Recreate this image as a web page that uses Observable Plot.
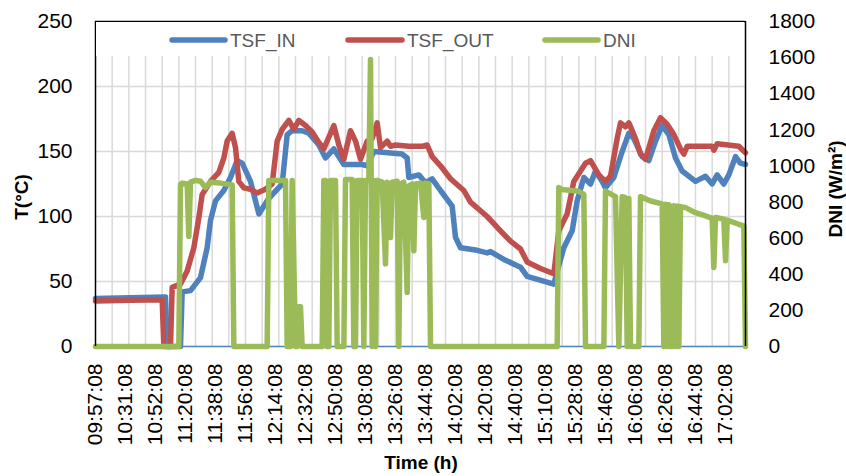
<!DOCTYPE html>
<html><head><meta charset="utf-8">
<script src="https://cdn.jsdelivr.net/npm/d3@7"></script>
<script src="https://cdn.jsdelivr.net/npm/@observablehq/plot@0.6"></script>
<style>body{margin:0;background:#fff} svg{display:block}</style>
</head><body><div id="chart"></div>
<script>
// ---- data ----
const timeLabels = ["09:57:08","10:31:08","10:52:08","11:20:08","11:38:08","11:56:08","12:14:08","12:32:08","12:50:08","13:08:08","13:26:08","13:44:08","14:02:08","14:20:08","14:40:08","15:10:08","15:28:08","15:46:08","16:06:08","16:26:08","16:44:08","17:02:08"];
const labelStep = 18;
const nPoints = 391;
const tempTicks = [0, 50, 100, 150, 200, 250];
const dniTicks = [0, 200, 400, 600, 800, 1000, 1200, 1400, 1600, 1800];

const inIdx = [0,21,42,43,51,52,57,63,67,69,72,77,81,85,88,93,96,98,104,112,115,118,124,128,134,138,143,149,160,163,167,184,187,188,194,198,202,207,214,216,219,229,235,237,245,255,259,275,276,281,286,289,293,297,300,304,306,311,316,320,323,328,332,336,340,344,348,352,360,366,370,373,377,380,384,387,390];
const inVal = [37,37.5,38,0,0,42,43,53,76,97,112,120,130,143,141,127,112,102,114,125,163,166,166,164,155,145,152,140,140,139,150,148,145,130,132,126,129,120,108,84,76,74,72,73,67,61,54,48,53,76,89,112,130,125,135,127,122,130,150,164,160,146,143,158,170,163,145,135,127,131,125,132,125,132,146,141,140];

const outIdx = [0,21,40,41,45,46,51,55,59,62,64,69,74,77,79,82,84,86,89,93,97,102,106,109,112,116,119,122,126,130,134,137,143,146,149,153,156,159,163,166,169,171,175,177,180,188,196,199,202,207,213,221,225,235,243,249,255,259,267,275,278,283,287,294,297,302,306,309,313,315,318,320,324,327,330,335,339,343,347,351,353,355,370,371,373,386,390];
const outVal = [35,35.5,36,0,0,45.5,48,58,76,99,117,127,134,145,158,164,153,127,122,121,118,121,125,158,167,174,167,174,170,165,157,152,170,155,144,166,158,144,158,160,172,153,158,154,155,154,154,155,146,139,129,120,111,100,89,81,75,65,60,56,89,102,127,141,143,132,127,131,160,172,169,172,160,148,144,166,176,171,163,152,148,154,154,151,156,154,149];

const dniIdx = [0,50,51,52,55,56,57,60,63,66,69,75,82,83,103,104,114,115,117,118,120,121,122,123,124,136,137,138,139,140,141,144,145,149,150,154,155,156,157,160,161,162,164,165,166,167,168,169,172,174,175,177,178,181,182,183,185,187,188,190,191,192,195,197,198,200,201,277,278,280,290,293,294,305,306,312,314,316,318,319,320,321,326,327,333,340,341,342,343,344,345,346,347,348,349,350,351,354,360,366,370,371,372,377,378,379,386,389,390];
const dniVal = [0,0,898,905,900,610,910,920,915,880,910,905,895,0,0,920,920,0,0,920,0,0,220,220,0,0,920,920,0,0,920,920,0,0,925,925,0,0,920,920,0,920,920,1590,0,920,0,920,910,458,910,603,910,915,0,900,910,300,890,900,530,900,905,714,905,900,0,0,880,870,860,843,0,0,861,830,0,830,825,0,820,0,0,830,806,790,0,788,0,785,0,0,780,0,778,0,775,769,741,723,710,438,715,705,475,700,677,668,0];

// ---- build ----
const ratio = dniTicks[dniTicks.length - 1] / tempTicks[tempTicks.length - 1];
const xMax = nPoints - 1;
const tsfIn = inIdx.map((x, i) => ({x, v: inVal[i]}));
const tsfOut = outIdx.map((x, i) => ({x, v: outVal[i]}));
const dni = dniIdx.map((x, i) => ({x, v: dniVal[i]}));
const labelIdx = timeLabels.map((_, i) => i * labelStep);
const gridX = d3.range(10, xMax, 10);

const C_IN = "#4f81bd", C_OUT = "#c0504d", C_DNI = "#9bbb59";
const lineOpts = {x: "x", strokeWidth: 5.5, strokeLinejoin: "round", strokeLinecap: "round"};
const FONT = "'Liberation Sans', Arial, sans-serif";

const chart = Plot.plot({
  width: 846, height: 476,
  marginTop: 21, marginBottom: 130, marginLeft: 95, marginRight: 101,
  style: {fontFamily: FONT, fontSize: "21px", color: "#000", background: "#fff", overflow: "visible"},
  x: {domain: [0, xMax]},
  y: {domain: [0, tempTicks[tempTicks.length - 1]]},
  marks: [
    Plot.ruleY(tempTicks.slice(1, -1), {stroke: "#d9d9d9", strokeWidth: 1.5}),
    Plot.ruleX(gridX, {stroke: "#d9d9d9", strokeWidth: 1.5}),
    Plot.ruleY([0], {stroke: C_IN, strokeWidth: 1.5}),
    Plot.line(tsfIn, {...lineOpts, y: "v", stroke: C_IN}),
    Plot.line(tsfOut, {...lineOpts, y: "v", stroke: C_OUT}),
    Plot.line(dni, {...lineOpts, y: d => d.v / ratio, stroke: C_DNI}),
    Plot.ruleX([0, xMax], {stroke: "#000", strokeWidth: 1.5}),
    Plot.ruleY([tempTicks[tempTicks.length - 1]], {stroke: "#000", strokeWidth: 1.5}),
    Plot.axisY({ticks: tempTicks, tickSize: 0, tickPadding: 23, label: null}),
    Plot.axisY({anchor: "right", ticks: dniTicks.map(v => v / ratio), tickFormat: v => String(Math.round(v * ratio)), tickSize: 0, tickPadding: 23, label: null}),
    Plot.axisX({ticks: labelIdx, tickFormat: i => timeLabels[Math.round(i / labelStep)], tickRotate: -90, tickSize: 0, tickPadding: 17, label: null})
  ]
});
document.getElementById("chart").appendChild(chart);

const svg = d3.select(chart);
// legend
svg.append("rect").attr("x", 96).attr("y", 22).attr("width", 648).attr("height", 34).attr("fill", "#fff");
const legend = [
  {name: "TSF_IN", color: C_IN, x0: 172, x1: 225, tx: 230},
  {name: "TSF_OUT", color: C_OUT, x0: 348, x1: 402, tx: 407},
  {name: "DNI", color: C_DNI, x0: 545, x1: 598, tx: 603}
];
for (const l of legend) {
  svg.append("line").attr("x1", l.x0).attr("x2", l.x1).attr("y1", 40).attr("y2", 40)
    .attr("stroke", l.color).attr("stroke-width", 5.5).attr("stroke-linecap", "round");
  svg.append("text").attr("x", l.tx).attr("y", 47).attr("fill", "#595959").attr("text-anchor", "start")
    .style("font-family", FONT).style("font-size", "19px").text(l.name);
}
// axis titles
const titleStyle = s => s.style("font-family", FONT).style("font-size", "19px").style("font-weight", "bold").attr("fill", "#000").attr("text-anchor", "middle");
titleStyle(svg.append("text")).attr("transform", "translate(28,197) rotate(-90)").text("T(°C)");
titleStyle(svg.append("text")).attr("transform", "translate(842,189) rotate(-90)").text("DNI (W/m²)");
titleStyle(svg.append("text")).attr("x", 421).attr("y", 469).text("Time (h)");
</script>
</body></html>
